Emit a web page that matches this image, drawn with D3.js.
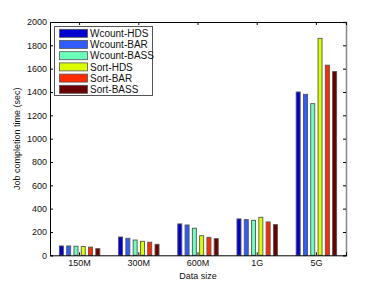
<!DOCTYPE html>
<html><head><meta charset="utf-8">
<script src="https://cdn.jsdelivr.net/npm/d3@7"></script>
<style>body{margin:0;background:#fff}svg{display:block}text{font-family:"Liberation Sans",Arial,sans-serif}</style>
</head><body>
<svg id="c" width="382" height="288"></svg>
<script>
const categories = ["150M","300M","600M","1G","5G"];
const seriesNames = ["Wcount-HDS","Wcount-BAR","Wcount-BASS","Sort-HDS","Sort-BAR","Sort-BASS"];
const wcountHDS  = [80, 157, 269, 312, 1400];
const wcountBAR  = [80, 146, 260, 306, 1380];
const wcountBASS = [78, 131, 232, 300, 1300];
const sortHDS    = [75, 120, 168, 326, 1860];
const sortBAR    = [70, 112, 154, 286, 1630];
const sortBASS   = [57, 94, 143, 263, 1575];
const yTicks = [0,200,400,600,800,1000,1200,1400,1600,1800,2000];
const colors = ["#0000d0","#2f5cff","#6cffbc","#dcff00","#ff2a00","#6a0000"];
const series = [wcountHDS,wcountBAR,wcountBASS,sortHDS,sortBAR,sortBASS];

const svg = d3.select("#c");
const L=50,R=346,T=22,B=255.3;
const x = d3.scaleBand().domain(categories).range([L,R]).padding(0);
const inner = d3.scaleBand().domain(seriesNames).range([-23.5,23.5]).padding(0.45);
const y = d3.scaleLinear().domain([0,2000]).range([B,T]);

const g = svg.append("g");
categories.forEach((c,i)=>{
  series.forEach((s,j)=>{
    const cx = x(c)+x.bandwidth()/2;
    g.append("rect")
      .attr("x", cx+inner(seriesNames[j]))
      .attr("y", y(s[i]))
      .attr("width", inner.bandwidth())
      .attr("height", B-y(s[i]))
      .attr("fill", colors[j])
      .attr("stroke","#555").attr("stroke-width",0.9);
  });
});

// axes
const fs = 9;
const yl = svg.append("g").attr("transform",`translate(${L},0)`)
  .call(d3.axisLeft(y).tickValues(yTicks).tickSize(-3).tickPadding(3).tickFormat(d3.format("d")));
const yr = svg.append("g").attr("transform",`translate(${R},0)`)
  .call(d3.axisRight(y).tickValues(yTicks).tickSize(-3).tickFormat(""));
const xb = svg.append("g").attr("transform",`translate(0,${B})`)
  .call(d3.axisBottom(x).tickSize(-3).tickPadding(4));
const xt = svg.append("g").attr("transform",`translate(0,${T})`)
  .call(d3.axisTop(x).tickSize(-3).tickFormat(""));
[yl,yr,xb,xt].forEach(a=>{
  a.select(".domain").attr("stroke","#000").attr("stroke-width",1);
  a.selectAll(".tick line").attr("stroke","#000");
  a.selectAll("text").attr("font-size",fs).attr("fill","#111").attr("font-family","Liberation Sans, Arial, sans-serif");
});
yr.select(".domain").attr("stroke","#888").attr("stroke-width",1.5);

svg.append("text").attr("x",(L+R)/2).attr("y",278.5).attr("text-anchor","middle")
  .attr("font-size",fs).attr("fill","#111").text("Data size");
svg.append("text").attr("transform",`translate(20,${(T+B)/2}) rotate(-90)`).attr("text-anchor","middle")
  .attr("font-size",fs).attr("fill","#111").text("Job completion time (sec)");

// legend
const lg = svg.append("g");
lg.append("rect").attr("x",54.5).attr("y",26.5).attr("width",98).attr("height",69)
  .attr("fill","#fff").attr("stroke","#555").attr("stroke-width",1);
seriesNames.forEach((n,j)=>{
  const cy = 33.3 + j*11.2;
  lg.append("rect").attr("x",59.5).attr("y",cy-4).attr("width",28).attr("height",8)
    .attr("fill",colors[j]).attr("stroke","#555").attr("stroke-width",0.8);
  lg.append("text").attr("x",90).attr("y",cy+3.6).attr("font-size",10).attr("fill","#111").text(n);
});
</script>
</body></html>
